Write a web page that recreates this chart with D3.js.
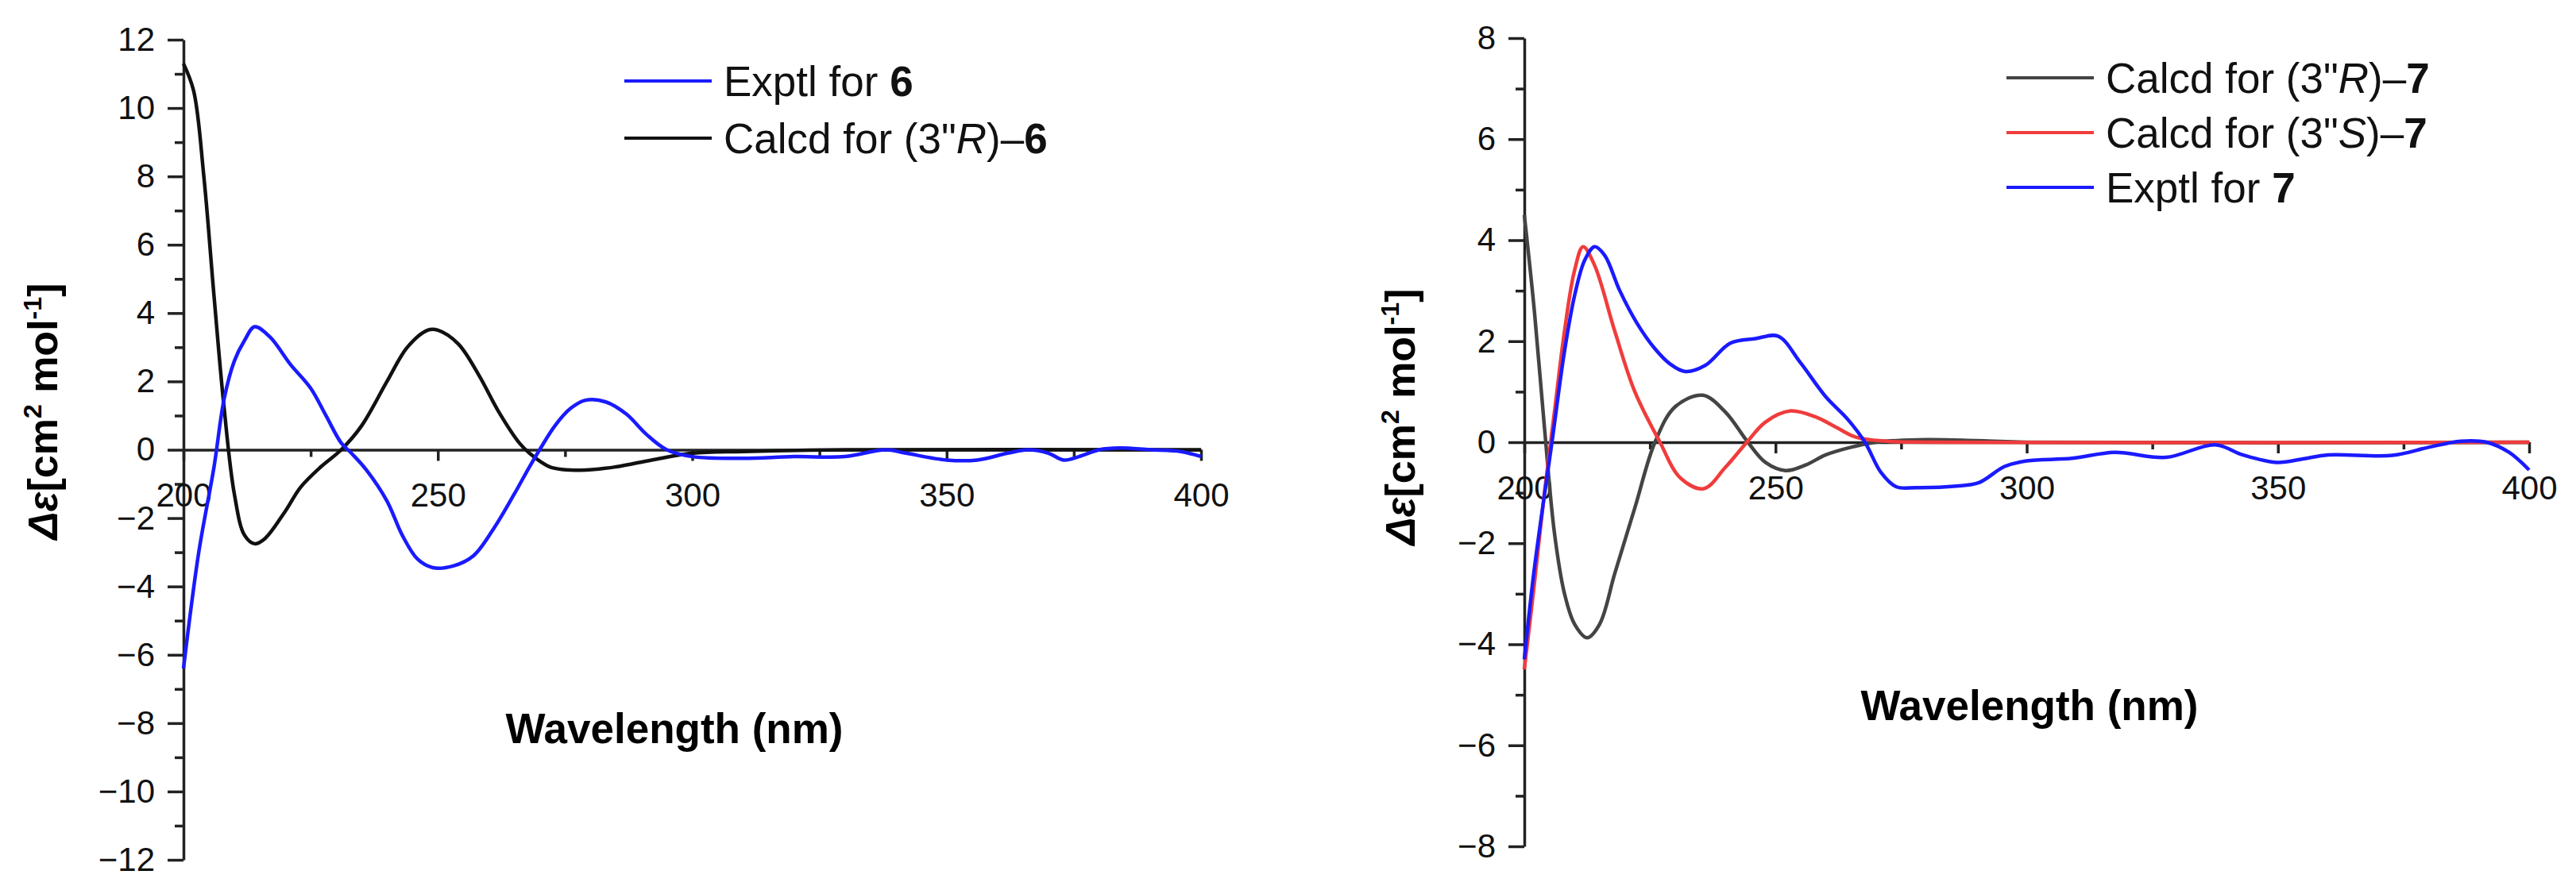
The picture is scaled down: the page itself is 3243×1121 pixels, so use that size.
<!DOCTYPE html>
<meta charset="utf-8" />
<html>
  <head>
    <script src="https://d3js.org/d3.v7.min.js"></script>
    <style>
      body { margin: 0; background: white; font-family: Arial, "Liberation Sans", sans-serif; }
    </style>
  </head>
  <body>
    <div id="chart"></div>
  </body>
  <script>
    // panel a: compound 6
    const exptl6 = [[200,-6.4],[203,-3],[206,-0.5],[208,1.5],[210,2.6],[212,3.2],[214,3.6],[217,3.3],[221,2.5],[225,1.8],[228,1.0],[231,0.2],[233,-0.1],[236,-0.6],[240,-1.5],[243,-2.5],[246,-3.2],[249,-3.45],[253,-3.4],[257,-3.1],[261,-2.3],[265,-1.3],[268,-0.5],[270,0],[273,0.7],[276,1.2],[279,1.45],[283,1.4],[287,1.05],[291,0.45],[295,0],[300,-0.2],[310,-0.25],[320,-0.2],[330,-0.2],[338,0],[342,-0.1],[350,-0.3],[356,-0.3],[362,-0.1],[366,0],[370,-0.1],[373,-0.3],[376,-0.2],[380,0],[384,0.05],[390,0],[396,-0.05],[400,-0.2]];
    const calcd6 = [[200,11.3],[202,10.5],[204,8],[206,4.5],[208,1.2],[210,-1.3],[212,-2.5],[214,-2.75],[216,-2.6],[220,-1.8],[223,-1.1],[227,-0.5],[231,0],[235,0.7],[240,2.0],[244,3.0],[248,3.5],[250,3.5],[254,3.1],[258,2.2],[262,1.1],[266,0.2],[268,-0.1],[272,-0.5],[278,-0.6],[285,-0.5],[292,-0.3],[300,-0.1],[310,-0.05],[330,0],[400,0]];

    // panel b: compound 7
    const calcdR7 = [[200,4.5],[202,2.6],[204,0.3],[206,-1.8],[208,-3.0],[210,-3.6],[212.5,-3.87],[215,-3.6],[218,-2.6],[222,-1.3],[226,0],[230,0.7],[235.5,0.93],[240,0.6],[244.5,0],[248,-0.4],[252,-0.56],[256,-0.45],[260,-0.25],[265,-0.1],[270,0],[280,0.05],[290,0.03],[300,0],[400,0]];
    const calcdS7 = [[200,-4.5],[202,-2.8],[204,-1.0],[206,0.6],[208,2.2],[210,3.4],[211.7,3.87],[214,3.5],[218,2.2],[222,1.0],[227,0],[231,-0.7],[235.7,-0.92],[240,-0.5],[244.3,0],[248,0.4],[253,0.62],[258,0.5],[262,0.3],[266,0.1],[272,0.02],[280,0],[400,0]];
    const exptl7 = [[200,-4.3],[202,-2.5],[205.5,0],[208,1.8],[210,2.9],[212,3.6],[214,3.87],[216,3.7],[219,3.0],[222.4,2.36],[226,1.85],[229,1.55],[232,1.4],[236,1.52],[241,1.96],[246,2.05],[250.5,2.1],[255,1.57],[260,0.9],[264.4,0.45],[267.8,0],[271,-0.6],[274,-0.88],[278,-0.9],[286,-0.87],[290.5,-0.8],[295.6,-0.48],[300,-0.37],[309,-0.32],[317.5,-0.2],[327.7,-0.3],[337.5,-0.05],[343,-0.25],[349.8,-0.4],[355,-0.33],[360,-0.25],[372.8,-0.26],[380,-0.1],[386.4,0.02],[391.5,0],[396,-0.2],[400,-0.55]];

    const xTicks = [200, 250, 300, 350, 400];

    const svg = d3.select('#chart').append('svg')
      .attr('width', 3243)
      .attr('height', 1121);

    const drawPanel = (opt) => {
      const x = d3.scaleLinear().domain([200, 400]).range([opt.x0, opt.x1]);
      const y = d3.scaleLinear().domain(opt.yDomain).range([opt.yBottom, opt.yTop]);
      const g = svg.append('g');

      // y axis
      const yAx = g.append('g').attr('transform', `translate(${opt.x0},0)`);
      yAx.call(d3.axisLeft(y).tickValues(d3.range(opt.yDomain[0], opt.yDomain[1] + 1, 2)).tickSize(20).tickSizeOuter(0).tickPadding(16));
      yAx.append('g').call(d3.axisLeft(y).tickValues(d3.range(opt.yDomain[0] + 1, opt.yDomain[1], 2)).tickSize(11).tickFormat('').tickSizeOuter(0))
        .select('.domain').remove();

      // x axis at zero
      const xAx = g.append('g').attr('transform', `translate(0,${y(0)})`);
      xAx.call(d3.axisBottom(x).tickValues(xTicks).tickSize(14).tickSizeOuter(0).tickPadding(28));
      xAx.append('g').call(d3.axisBottom(x).tickValues([225, 275, 325, 375]).tickSize(9).tickFormat(''))
        .select('.domain').remove();

      g.selectAll('.domain').attr('stroke-width', 3.5).attr('stroke', '#222');
      g.selectAll('.tick line').attr('stroke-width', 3.5).attr('stroke', '#222');
      g.selectAll('.tick text').attr('font-size', 42).attr('fill', '#111').attr('font-family', 'Arial, "Liberation Sans", sans-serif');

      const line = d3.line().x(d => x(d[0])).y(d => y(d[1])).curve(d3.curveCatmullRom);
      opt.series.forEach(s => {
        g.append('path').datum(s.data)
          .attr('fill', 'none').attr('stroke', s.color).attr('stroke-width', 4.5)
          .attr('d', line);
      });

      // legend
      opt.series.slice().sort((a, b) => a.legendRow - b.legendRow).forEach((s, i) => {
        const ly = opt.legendY + i * opt.legendStep;
        g.append('line').attr('x1', opt.legendX).attr('x2', opt.legendX + 110)
          .attr('y1', ly).attr('y2', ly).attr('stroke', s.color).attr('stroke-width', 4);
        const t = g.append('text').attr('x', opt.legendX + 125).attr('y', ly + 19)
          .attr('font-size', 53).attr('fill', '#111');
        s.label.forEach(p => t.append('tspan').text(p[0])
          .attr('font-weight', p[1] === 'b' ? 'bold' : null)
          .attr('font-style', p[1] === 'i' ? 'italic' : null));
      });

      // axis titles
      g.append('text').attr('x', opt.titleX).attr('y', opt.titleY)
        .attr('text-anchor', 'middle').attr('font-size', 53).attr('font-weight', 'bold')
        .text('Wavelength (nm)');
      const yt = g.append('text')
        .attr('transform', `translate(${opt.yTitleX},${opt.yTitleY}) rotate(-90)`)
        .attr('text-anchor', 'middle').attr('font-size', 52).attr('font-weight', 'bold');
      yt.append('tspan').attr('font-style', 'italic').text('Δε');
      yt.append('tspan').text('[cm');
      yt.append('tspan').attr('font-size', 32).attr('dy', -20).text('2');
      yt.append('tspan').attr('dy', 20).text(' mol');
      yt.append('tspan').attr('font-size', 32).attr('dy', -20).text('-1');
      yt.append('tspan').attr('dy', 20).text(']');
    };

    drawPanel({
      x0: 231, x1: 1512, yTop: 50, yBottom: 1083, yDomain: [-12, 12],
      legendX: 786, legendY: 102, legendStep: 72,
      titleX: 849, titleY: 936, yTitleX: 72, yTitleY: 518,
      series: [
        {data: calcd6, color: '#111111', legendRow: 1, label: [['Calcd for (3"', ''], ['R', 'i'], [')–', ''], ['6', 'b']]},
        {data: exptl6, color: '#1a1aff', legendRow: 0, label: [['Exptl for ', ''], ['6', 'b']]}
      ]
    });

    drawPanel({
      x0: 1919, x1: 3184, yTop: 48, yBottom: 1066, yDomain: [-8, 8],
      legendX: 2526, legendY: 98, legendStep: 69,
      titleX: 2555, titleY: 907, yTitleX: 1781, yTitleY: 525,
      series: [
        {data: calcdR7, color: '#444444', legendRow: 0, label: [['Calcd for (3"', ''], ['R', 'i'], [')–', ''], ['7', 'b']]},
        {data: calcdS7, color: '#f03c3c', legendRow: 1, label: [['Calcd for (3"', ''], ['S', 'i'], [')–', ''], ['7', 'b']]},
        {data: exptl7, color: '#1a1aff', legendRow: 2, label: [['Exptl for ', ''], ['7', 'b']]}
      ]
    });
  </script>
</html>
